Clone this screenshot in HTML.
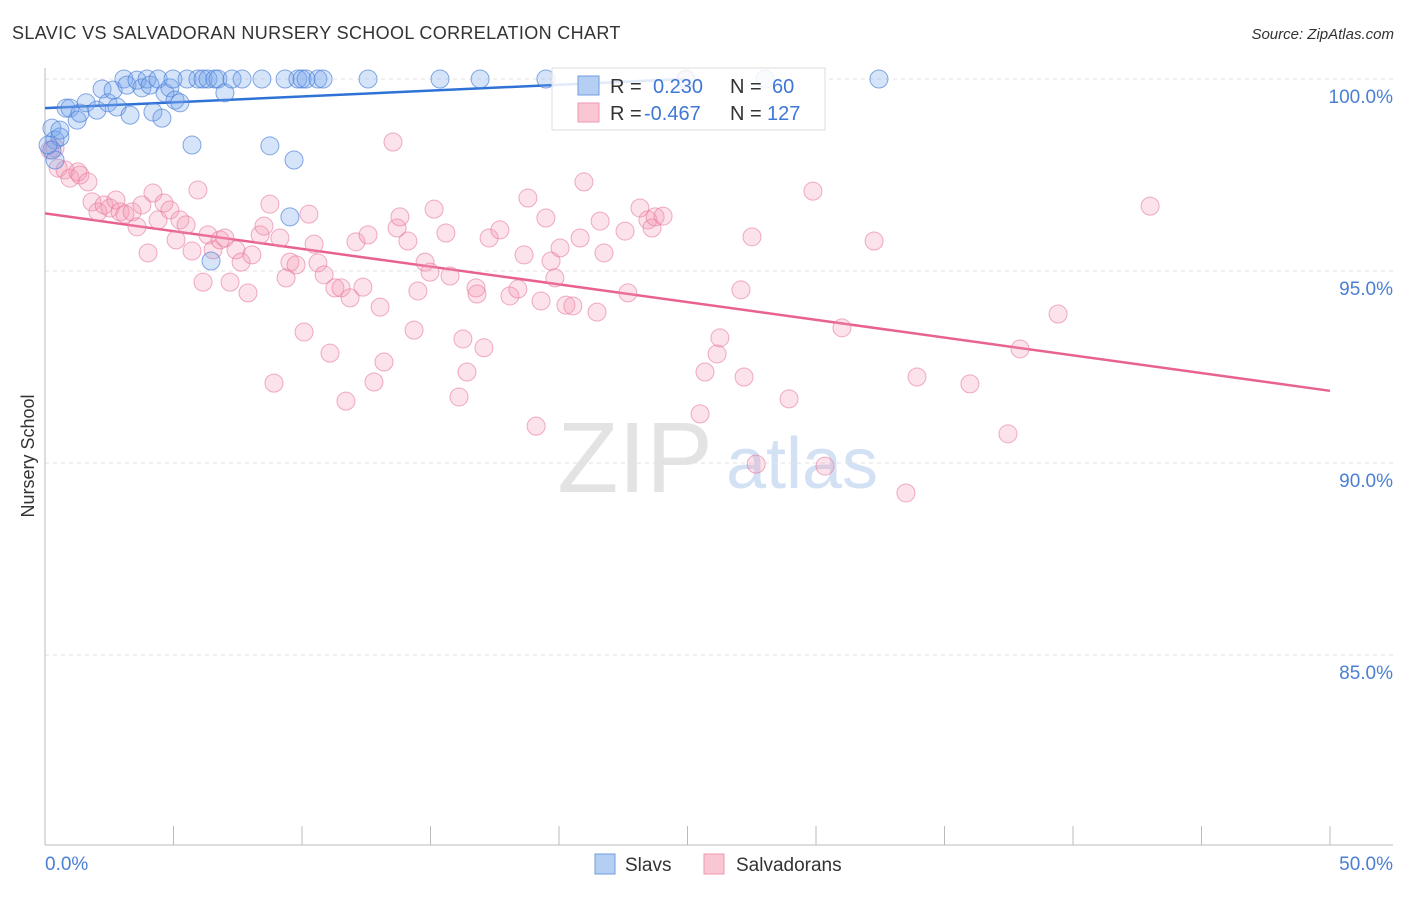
<!DOCTYPE html>
<html><head><meta charset="utf-8"><style>
body{margin:0;background:#fff;font-family:"Liberation Sans",sans-serif;}
svg text{font-family:"Liberation Sans",sans-serif;}
</style></head><body>
<svg id="chart" width="1406" height="892" xmlns="http://www.w3.org/2000/svg">
<text x="12" y="39" font-size="18" fill="#333" letter-spacing="0.35">SLAVIC VS SALVADORAN NURSERY SCHOOL CORRELATION CHART</text>
<text x="1394" y="39" font-size="15" fill="#333" font-style="italic" text-anchor="end">Source: ZipAtlas.com</text>
<text x="34" y="456" font-size="18" fill="#333" text-anchor="middle" transform="rotate(-90 34 456)">Nursery School</text>
<g>
<text x="635" y="492" font-size="100" fill="#ddd" font-family="Liberation Serif" text-anchor="middle" opacity="0.8">ZIP</text>
<text x="802" y="488" font-size="72" fill="#c9daf2" text-anchor="middle" opacity="0.8">atlas</text>
</g>
<g id="grid"></g><g id="axes"></g><g id="trend"></g><g id="pts"></g>
<g>
<rect x="552" y="68" width="273" height="62" fill="#fff" fill-opacity="0.85" stroke="#ddd"/>
<rect x="578" y="76" width="21" height="19" fill="#b5cff3" stroke="#6f9ee0"/>
<rect x="578" y="103" width="21" height="19" fill="#f9c6d4" stroke="#ee9ab2"/>
<text x="610" y="93" font-size="20" fill="#333">R = </text><text x="653" y="93" font-size="20" fill="#3f78d6">0.230</text>
<text x="730" y="93" font-size="20" fill="#333">N = </text><text x="772" y="93" font-size="20" fill="#3f78d6">60</text>
<text x="610" y="120" font-size="20" fill="#333">R = </text><text x="644" y="120" font-size="20" fill="#3f78d6">-0.467</text>
<text x="730" y="120" font-size="20" fill="#333">N = </text><text x="767" y="120" font-size="20" fill="#3f78d6">127</text>
</g>
<g>
<rect x="595" y="854" width="20" height="20" fill="#b5cff3" stroke="#6f9ee0"/>
<text x="625" y="871" font-size="19" fill="#333">Slavs</text>
<rect x="704" y="854" width="20" height="20" fill="#f9c6d4" stroke="#ee9ab2"/>
<text x="736" y="871" font-size="19" fill="#333">Salvadorans</text>
</g>
</svg>
<script>
const yTicks=[100,95,90,85];
const yTickLabels=["100.0%","95.0%","90.0%","85.0%"];
const xTickVals=[0,5,10,15,20,25,30,35,40,45,50];
const xEndLabels=["0.0%","50.0%"];
const slavX=[0.27,0.39,0.58,0.82,0.97,1.25,1.36,1.60,2.02,2.22,2.45,2.65,2.80,3.07,3.19,3.31,3.58,3.77,3.97,4.09,4.20,4.40,4.55,4.67,4.86,5.06,5.25,4.98,5.53,5.72,5.95,6.15,6.34,6.61,6.73,7.00,7.28,7.67,8.44,8.75,9.34,9.84,10.0,10.16,10.62,10.82,9.69,9.53,6.46,12.57,15.37,16.93,19.49,24.94,28.02,32.45,0.27,0.39,0.12,0.58];
const slavY=[98.72,98.41,98.49,99.24,99.24,98.93,99.11,99.38,99.19,99.74,99.38,99.71,99.27,100,99.84,99.06,99.97,99.77,100,99.84,99.14,100,98.98,99.64,99.77,99.45,99.38,100,100,98.28,100,100,100,100,100,99.64,100,100,100,98.26,100,100,100,100,100,100,97.89,96.41,95.26,100,100,100,100,100,100,100,98.15,97.89,98.28,98.67];
const salX=[0.19,0.39,0.51,0.78,0.97,1.36,1.28,1.67,1.83,2.06,2.30,2.53,2.76,2.92,3.11,3.39,3.58,3.77,4.01,4.20,4.40,4.63,4.86,5.10,5.25,5.49,5.72,5.95,6.15,6.34,6.54,6.81,7.00,7.20,7.43,7.63,7.90,8.05,8.37,8.52,8.75,8.91,9.14,9.38,9.53,9.77,10.08,10.27,10.47,10.62,10.86,11.09,11.28,11.52,11.71,11.87,12.10,12.37,12.57,12.80,13.04,13.19,13.54,13.70,13.81,14.12,14.36,14.51,14.79,14.98,15.14,15.60,15.76,16.11,16.26,16.42,16.77,16.81,17.08,17.28,17.70,18.09,18.40,18.64,18.79,19.11,19.30,19.49,19.69,19.84,20.04,20.27,20.54,20.82,20.97,21.48,21.60,21.75,22.57,22.68,23.15,23.46,23.62,23.74,24.05,24.94,25.49,25.68,26.15,26.26,27.20,27.51,27.67,27.08,28.95,29.88,30.35,31.01,32.26,33.50,33.93,35.99,37.47,37.94,39.42,43.00];
const salY=[98.15,98.20,97.68,97.63,97.42,97.50,97.58,97.32,96.80,96.54,96.72,96.64,96.85,96.54,96.48,96.54,96.15,96.72,95.47,97.03,96.33,96.77,96.59,95.81,96.33,96.20,95.52,97.11,94.71,95.94,95.55,95.81,95.86,94.71,95.55,95.23,94.43,95.42,95.94,96.17,96.74,92.08,95.86,94.82,95.23,95.16,93.41,96.48,95.70,95.21,94.90,92.86,94.56,94.56,91.61,94.30,95.76,94.58,95.94,92.11,94.06,92.63,98.36,96.12,96.41,95.78,93.46,94.48,95.23,94.97,96.61,95.99,94.87,91.72,93.23,92.37,94.56,94.40,93.00,95.86,96.07,94.35,94.53,95.42,96.90,90.96,94.22,96.38,95.26,94.82,95.60,94.11,94.09,95.86,97.32,93.93,96.30,95.47,96.04,94.43,96.64,96.33,96.12,96.41,96.43,99.97,91.28,92.37,92.84,93.26,92.24,95.89,89.97,94.51,91.67,97.08,89.92,93.52,95.78,89.22,92.24,92.06,90.76,92.97,93.88,96.69];
const slavTrend=[[0,99.24],[24.9,100.0]];
const salTrend=[[0,96.5],[50,91.88]];

const NS="http://www.w3.org/2000/svg";
const X=v=>45+v*25.7;
const Y=v=>79+(100-v)*38.4;
function mk(tag,attrs,parent){const e=document.createElementNS(NS,tag);for(const k in attrs)e.setAttribute(k,attrs[k]);parent.appendChild(e);return e;}
const grid=document.getElementById('grid'),axes=document.getElementById('axes'),trend=document.getElementById('trend'),pts=document.getElementById('pts');
yTicks.forEach((t,i)=>{
 const l=mk('line',{x1:45,x2:1393,y1:Y(t),y2:Y(t),stroke:'#e2e2e2','stroke-dasharray':'4,4','stroke-width':1},grid);
 
 
 const tx=mk('text',{x:1393,y:Y(t)+24,'font-size':19,fill:'#4a7fd4','text-anchor':'end'},grid);
 tx.textContent=yTickLabels[i];
 
 
});
const ax=mk('line',{x1:45,x2:1393,y1:845,y2:845,stroke:'#bbb'},axes);


const ay=mk('line',{x1:45,x2:45,y1:68,y2:845,stroke:'#bbb'},axes);


xTickVals.forEach(v=>{
 const t=mk('line',{x1:X(v),x2:X(v),y1:826,y2:845,stroke:'#bbb'},axes);
 
 
});
const xl0=mk('text',{x:45,y:870,'font-size':19,fill:'#4a7fd4'},axes);xl0.textContent=xEndLabels[0];


const xl1=mk('text',{x:1393,y:870,'font-size':19,fill:'#4a7fd4','text-anchor':'end'},axes);xl1.textContent=xEndLabels[1];


salX.forEach((v,i)=>{
 const c=mk('circle',{cx:X(v),cy:Y(salY[i]),r:9,fill:'rgba(243,150,178,0.28)',stroke:'rgba(230,120,155,0.6)','stroke-width':1},pts);
 
 
});
slavX.forEach((v,i)=>{
 const c=mk('circle',{cx:X(v),cy:Y(slavY[i]),r:9,fill:'rgba(120,165,235,0.3)',stroke:'rgba(70,125,215,0.65)','stroke-width':1},pts);
 
 
});
const t1=mk('line',{x1:X(slavTrend[0][0]),y1:Y(slavTrend[0][1]),x2:X(slavTrend[1][0]),y2:Y(slavTrend[1][1]),stroke:'#2f72d6','stroke-width':2.5},trend);


const t2=mk('line',{x1:X(salTrend[0][0]),y1:Y(salTrend[0][1]),x2:X(salTrend[1][0]),y2:Y(salTrend[1][1]),stroke:'#e8628f','stroke-width':2.5},trend);


</script>
</body></html>
